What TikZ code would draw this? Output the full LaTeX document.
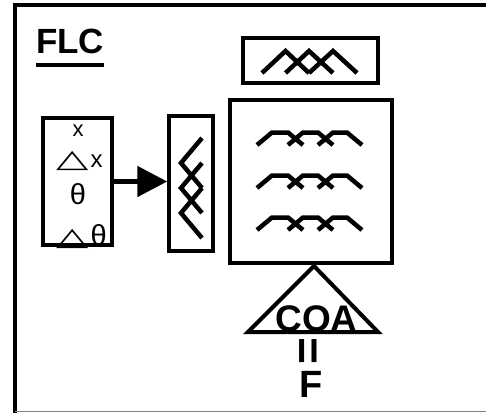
\documentclass[tikz,border=0pt]{standalone}
\usepackage{graphicx}
\usepackage{fontspec}
\setmainfont{Liberation Sans}
\newfontfamily\symfont{DejaVu Sans}
\usetikzlibrary{arrows.meta}
\newcommand{\tri}{{\symfont\scalebox{1.75}[1.05]{△}}}
\begin{document}
\begin{tikzpicture}[x=1pt,y=-1pt,
  box/.style={draw, line width=3.5pt, inner sep=0pt, rectangle},
  mf/.style={line width=4.5pt, line join=miter},
  lbl/.style={inner sep=0pt},
]
\useasboundingbox (0,0) rectangle (486,412);
\draw[line width=3.5pt] (15,413) -- (15,5) -- (488,5);
\draw[gray, line width=1pt] (15,411.5) -- (486,411.5);

\node[lbl, anchor=base west, font=\bfseries\fontsize{35}{35}\selectfont] (flc) at (36,53) {FLC};
\draw[line width=3.5pt] ([yshift=-12pt]flc.base west) -- ([yshift=-12pt]flc.base east);

\node[box, minimum width=69pt, minimum height=127pt] (in) at (77.5,181.5) {};
\node[box, minimum width=44pt, minimum height=135pt] (fz) at (191,183.5) {};
\node[box, minimum width=135pt, minimum height=45pt] (top) at (310.5,60.5) {};
\node[box, minimum width=162pt, minimum height=163pt] (rb) at (311,181.5) {};

\draw[line width=5pt, -{Triangle[length=30pt,width=30pt]}] (in.east) -- (in.east -| fz.west);

% input labels
\node[lbl, font=\fontsize{22}{22}\selectfont] (t1) at (78,130.5) {x};
\node[lbl, anchor=base west, font=\fontsize{24}{24}\selectfont] (t2) at (56,167) {\tri\kern2pt x};
\node[lbl, font=\fontsize{29}{29}\selectfont] (t3) at (78,194) {θ};
\node[lbl, anchor=base west, font=\fontsize{24}{24}\selectfont] (t4) at (56,245) {\tri\kern2pt{\fontsize{29}{29}\selectfont θ}};

% membership functions
\draw[mf] (262,73) -- (285.5,51) -- (309,73) (285.5,73) -- (309,51) -- (333,73) (309,73) -- (333,51) -- (357,73);
\foreach \y in {145,188,230}{
  \draw[mf] (257,\y) -- (272,\y-12.5) -- (288,\y-12.5) -- (303,\y)
            (288,\y) -- (303,\y-12.5) -- (318,\y-12.5) -- (333,\y)
            (318,\y) -- (333,\y-12.5) -- (347,\y-12.5) -- (362,\y);
}
\draw[mf] (202,138) -- (181,163) -- (202,188) (202,163) -- (181,188) -- (202,213) (202,188) -- (181,213) -- (202,238);

% COA triangle
\coordinate (apex) at (314,266);
\coordinate (bl) at (248,332);
\coordinate (br) at (378,332);
\draw[line width=4pt, line join=miter] (apex) -- (br) -- (bl) -- cycle;
\node[lbl, anchor=base, font=\bfseries\fontsize{37}{37}\selectfont] (coa) at (316.5,331) {COA};
\node[lbl, rotate=90, font=\bfseries\fontsize{46}{46}\selectfont] (eq) at (311.5,351) {=};
\node[lbl, anchor=base, font=\bfseries\fontsize{38}{38}\selectfont] (f) at (311,397) {F};
\end{tikzpicture}
\end{document}
